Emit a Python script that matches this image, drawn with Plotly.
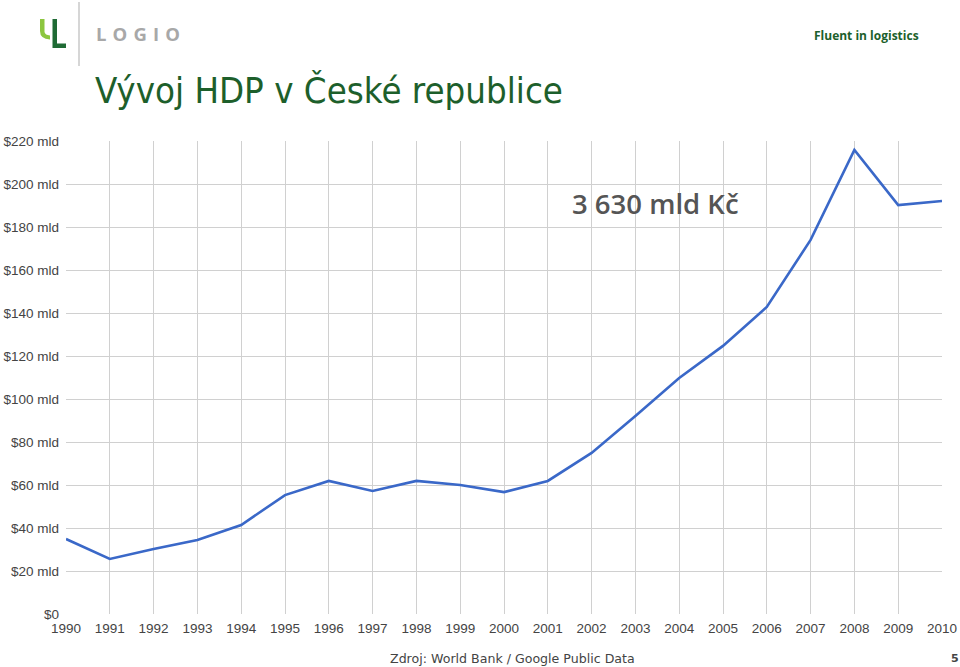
import plotly.graph_objects as go

years = list(range(1990, 2011))
gdp_bn = [34.9, 25.6, 30.2, 34.4, 41.4, 55.3, 61.9, 57.2, 61.9, 60.0, 56.7,
          61.9, 74.9, 92.1, 109.8, 124.7, 142.8, 174.0, 215.8, 190.2, 192.1]
y_ticks = list(range(0, 221, 20))
y_tick_labels = ["$0"] + [f"${v} mld" for v in y_ticks[1:]]

W, H = 960, 667
L, R, T, B = 66, 18, 141, 53
PW, PH = W - L - R, H - T - B

fig = go.Figure()
fig.add_trace(go.Scatter(
    x=years, y=gdp_bn, mode="lines",
    line=dict(color="#3a68c8", width=2.6),
    hoverinfo="x+y", showlegend=False,
))

fig.update_layout(
    width=W, height=H,
    margin=dict(l=L, r=R, t=T, b=B, pad=0, autoexpand=False),
    paper_bgcolor="white", plot_bgcolor="white",
    font=dict(family="Liberation Sans, Arial, sans-serif", color="#444444", size=13),
    xaxis=dict(
        range=[1990, 2010], tickmode="array", tickvals=years,
        ticktext=[str(y) for y in years],
        showgrid=True, gridcolor="#d0d0d0", gridwidth=1,
        zeroline=False, showline=False, ticks="",
        tickfont=dict(size=13.5, color="#444444"),
        ticklabelstandoff=4, automargin=False,
        fixedrange=True,
    ),
    yaxis=dict(
        range=[0, 220], tickmode="array", tickvals=y_ticks, ticktext=y_tick_labels,
        showgrid=True, gridcolor="#d0d0d0", gridwidth=1,
        zeroline=False, showline=False, ticks="",
        tickfont=dict(size=13.5, color="#444444"),
        ticklabelstandoff=6, automargin=False,
        fixedrange=True,
    ),
)


def px(x):
    return (x - L) / PW


def py(y):
    return (H - B - y) / PH


shapes = []
shapes.append(dict(type="line", xref="paper", yref="paper",
                   x0=px(79), x1=px(79), y0=py(2), y1=py(66),
                   line=dict(color="#bbbbbb", width=1.2)))
shapes.append(dict(type="path", xref="paper", yref="paper",
                   path=f"M {px(40)},{py(19)} L {px(44.5)},{py(19)} L {px(44.5)},{py(32)} "
                        f"Q {px(45)},{py(35)} {px(50)},{py(35.5)} L {px(50)},{py(39.5)} "
                        f"Q {px(40)},{py(39)} {px(40)},{py(31)} Z",
                   fillcolor="#8cc63f", line=dict(width=0)))
shapes.append(dict(type="path", xref="paper", yref="paper",
                   path=f"M {px(52.5)},{py(19)} L {px(57)},{py(19)} L {px(57)},{py(43.5)} "
                        f"L {px(66)},{py(43.5)} L {px(66)},{py(48)} L {px(52.5)},{py(48)} Z",
                   fillcolor="#1f6b35", line=dict(width=0)))
fig.update_layout(shapes=shapes)

ann = []
ann.append(dict(text="L\u2004O\u2004G\u2004I\u2004O", xref="paper", yref="paper",
                x=px(94), y=py(33), xanchor="left", yanchor="middle", showarrow=False,
                font=dict(family="Open Sans, sans-serif", size=18.5, color="#a8a8a8", weight=700)))
ann.append(dict(text="Vývoj HDP v České republice", xref="paper", yref="paper",
                x=px(93), y=py(91), xanchor="left", yanchor="middle", showarrow=False,
                font=dict(family="DejaVu Sans Condensed, DejaVu Sans, sans-serif", size=36.3, color="#1d5f2b")))
ann.append(dict(text="<b>Fluent in logistics</b>", xref="paper", yref="paper",
                x=px(921), y=py(36), xanchor="right", yanchor="middle", showarrow=False,
                font=dict(family="Open Sans, sans-serif", size=12, color="#1d5f2b")))
ann.append(dict(text="3 630 mld Kč", xref="paper", yref="paper",
                x=px(570), y=py(203), xanchor="left", yanchor="middle", showarrow=False,
                font=dict(family="Open Sans, sans-serif", size=27.5, color="#555555", weight=600)))
ann.append(dict(text="Zdroj: World Bank / Google Public Data", xref="paper", yref="paper",
                x=px(512), y=py(658), xanchor="center", yanchor="middle", showarrow=False,
                font=dict(family="DejaVu Sans, sans-serif", size=12.6, color="#444444")))
ann.append(dict(text="<b>5</b>", xref="paper", yref="paper",
                x=px(955), y=py(658), xanchor="center", yanchor="middle", showarrow=False,
                font=dict(family="DejaVu Sans, sans-serif", size=11, color="#444444")))
fig.update_layout(annotations=ann)

fig.write_html("out.html")
